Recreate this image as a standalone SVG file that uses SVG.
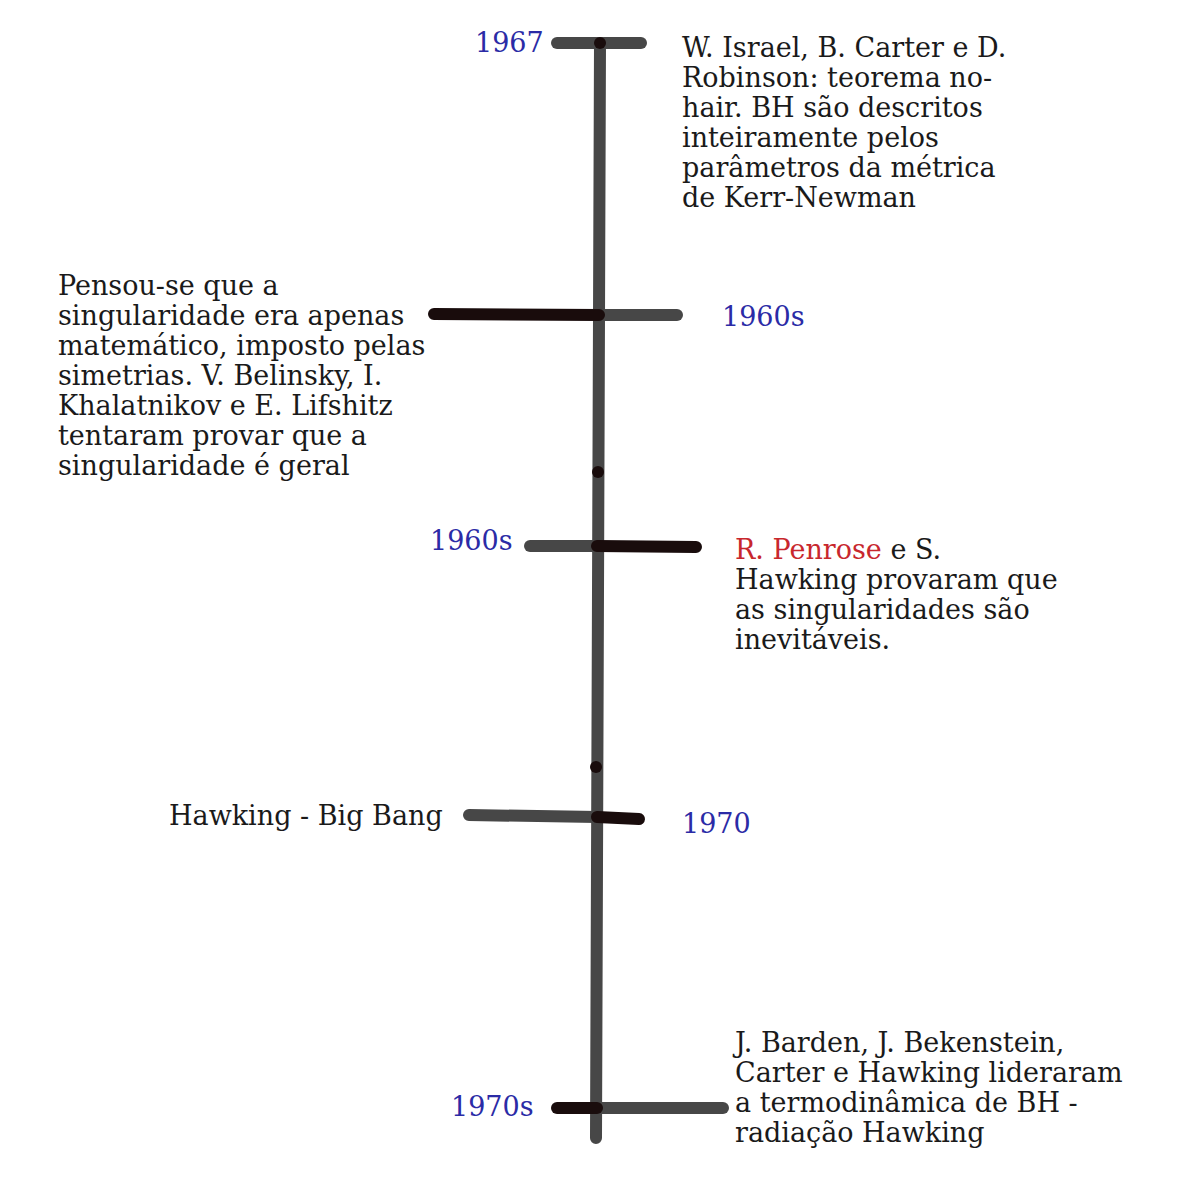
<svg xmlns="http://www.w3.org/2000/svg" width="1200" height="1200" viewBox="0 0 1200 1200">
<style>
.t{font-family:"DejaVu Serif","Liberation Serif",serif;font-size:27px;fill:#1a1a1a}
.y{font-family:"DejaVu Serif","Liberation Serif",serif;font-size:27px;fill:#2b2ba6}
.r{fill:#c8272d}
.g{stroke:#474747;stroke-width:12;stroke-linecap:round;fill:none}
.d{stroke:#190c0c;stroke-width:12;stroke-linecap:round;fill:none}
.dot{fill:#190c0c}
</style>
<rect width="1200" height="1200" fill="#fff"/>
<g id="connectors">
<line class="g" x1="600" y1="43" x2="596" y2="1138"/>
<line class="g" x1="557" y1="43" x2="641" y2="43"/>
<circle class="dot" cx="600" cy="43" r="6"/>
<line class="g" x1="599" y1="315" x2="677" y2="315"/>
<line class="d" x1="434" y1="314" x2="599" y2="315"/>
<circle class="dot" cx="598" cy="472" r="6"/>
<line class="g" x1="530" y1="546" x2="597" y2="546"/>
<line class="d" x1="597" y1="546" x2="696" y2="547"/>
<circle class="dot" cx="596" cy="767" r="6"/>
<line class="g" x1="469" y1="815" x2="597" y2="817"/>
<line class="d" x1="597" y1="817" x2="639" y2="819"/>
<line class="g" x1="597" y1="1108" x2="723" y2="1108"/>
<line class="d" x1="557" y1="1108" x2="597" y2="1108"/>
</g>
<g id="n1967">
<text class="y" x="475" y="52">1967</text>
<text class="t" x="682"><tspan x="682" y="57">W. Israel, B. Carter e D.</tspan><tspan x="682" y="87">Robinson: teorema no-</tspan><tspan x="682" y="117">hair. BH são descritos</tspan><tspan x="682" y="147">inteiramente pelos</tspan><tspan x="682" y="177">parâmetros da métrica</tspan><tspan x="682" y="207">de Kerr-Newman</tspan></text>
</g>
<g id="n1960a">
<text class="y" x="722" y="326">1960s</text>
<text class="t"><tspan x="58" y="295">Pensou-se que a</tspan><tspan x="58" y="325">singularidade era apenas</tspan><tspan x="58" y="355">matemático, imposto pelas</tspan><tspan x="58" y="385">simetrias. V. Belinsky, I.</tspan><tspan x="58" y="415">Khalatnikov e E. Lifshitz</tspan><tspan x="58" y="445">tentaram provar que a</tspan><tspan x="58" y="475">singularidade é geral</tspan></text>
</g>
<g id="n1960b">
<text class="y" x="430" y="550">1960s</text>
<text class="t"><tspan x="735" y="559" class="r">R. Penrose</tspan><tspan> e S.</tspan><tspan x="735" y="589">Hawking provaram que</tspan><tspan x="735" y="619">as singularidades são</tspan><tspan x="735" y="649">inevitáveis.</tspan></text>
</g>
<g id="n1970">
<text class="t" x="169" y="825">Hawking - Big Bang</text>
<text class="y" x="682" y="833">1970</text>
</g>
<g id="n1970s">
<text class="y" x="451" y="1116">1970s</text>
<text class="t"><tspan x="735" y="1052">J. Barden, J. Bekenstein,</tspan><tspan x="735" y="1082">Carter e Hawking lideraram</tspan><tspan x="735" y="1112">a termodinâmica de BH -</tspan><tspan x="735" y="1142">radiação Hawking</tspan></text>
</g>
</svg>
